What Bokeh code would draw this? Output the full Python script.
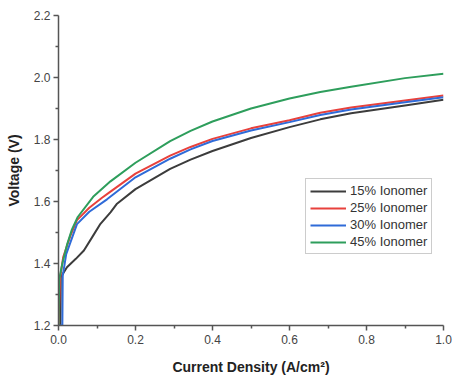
from bokeh.plotting import figure
from bokeh.models import Range1d, Legend, LegendItem, FixedTicker, CustomJSTickFormatter
from bokeh.embed import file_html
from bokeh.resources import INLINE

# Data
x15 = [0.0, 0.005, 0.006, 0.022, 0.045, 0.066, 0.09, 0.109, 0.135, 0.152, 0.2, 0.29, 0.343, 0.4, 0.5, 0.6, 0.68, 0.76, 0.9, 1.0]
v15 = [1.2, 1.2, 1.356, 1.388, 1.415, 1.442, 1.49, 1.528, 1.565, 1.593, 1.64, 1.705, 1.735, 1.763, 1.805, 1.84, 1.865, 1.885, 1.91, 1.928]

x25 = [0.0, 0.004, 0.012, 0.031, 0.048, 0.08, 0.113, 0.135, 0.2, 0.29, 0.343, 0.4, 0.5, 0.6, 0.68, 0.76, 0.9, 1.0]
v25 = [1.2, 1.35, 1.42, 1.49, 1.54, 1.58, 1.612, 1.632, 1.69, 1.748, 1.776, 1.802, 1.836, 1.862, 1.886, 1.903, 1.926, 1.942]

x30 = [0.0, 0.01, 0.011, 0.02, 0.048, 0.08, 0.126, 0.2, 0.29, 0.343, 0.4, 0.5, 0.6, 0.68, 0.76, 0.9, 1.0]
v30 = [1.2, 1.2, 1.36, 1.43, 1.527, 1.567, 1.607, 1.678, 1.738, 1.768, 1.795, 1.829, 1.856, 1.879, 1.897, 1.92, 1.936]

x45 = [0.0, 0.002, 0.01, 0.022, 0.035, 0.05, 0.09, 0.135, 0.2, 0.29, 0.343, 0.4, 0.5, 0.6, 0.68, 0.76, 0.9, 1.0]
v45 = [1.2, 1.35, 1.40, 1.46, 1.51, 1.55, 1.615, 1.665, 1.725, 1.795, 1.828, 1.858, 1.90, 1.932, 1.953, 1.97, 1.998, 2.012]

labels = ["15% Ionomer", "25% Ionomer", "30% Ionomer", "45% Ionomer"]
colors = ["#3c3c3c", "#e8413c", "#2f6bd8", "#2e9e5c"]

x_ticks = [0.0, 0.2, 0.4, 0.6, 0.8, 1.0]
y_ticks = [1.2, 1.4, 1.6, 1.8, 2.0, 2.2]

FONT = "Liberation Sans"

p = figure(width=454, height=383, output_backend="svg", toolbar_location=None,
           x_range=Range1d(0.0, 1.0), y_range=Range1d(1.2, 2.2),
           min_border_left=58, min_border_right=11, min_border_top=15, min_border_bottom=58)
p.outline_line_color = None
p.xgrid.visible = False
p.ygrid.visible = False
p.background_fill_color = "white"
p.border_fill_color = "white"

renderers = []
for xs, vs, c in zip([x15, x25, x30, x45], [v15, v25, v30, v45], colors):
    r = p.line(xs, vs, line_color=c, line_width=2)
    renderers.append(r)

for ax, ticks in ((p.xaxis[0], x_ticks), (p.yaxis[0], y_ticks)):
    ax.ticker = FixedTicker(ticks=ticks, minor_ticks=[t + 0.1 for t in ticks[:-1]])
    ax.formatter = CustomJSTickFormatter(code="return tick.toFixed(1);")
    ax.axis_line_color = "#555555"
    ax.axis_line_width = 1.5
    ax.major_tick_line_color = "#555555"
    ax.major_tick_line_width = 1.5
    ax.minor_tick_line_color = "#555555"
    ax.minor_tick_line_width = 1.5
    ax.major_tick_in = 0
    ax.major_tick_out = 5
    ax.minor_tick_in = 0
    ax.minor_tick_out = 3
    ax.major_label_text_font = FONT
    ax.major_label_text_font_size = "12px"
    ax.major_label_text_color = "#444444"
    ax.axis_label_text_font = FONT
    ax.axis_label_text_font_size = "14px"
    ax.axis_label_text_font_style = "bold"
    ax.axis_label_text_color = "#222222"

p.xaxis.axis_label = "Current Density (A/cm\u00b2)"
p.yaxis.axis_label = "Voltage (V)"
p.xaxis.major_label_standoff = 4
p.xaxis.axis_label_standoff = 12
p.yaxis.major_label_standoff = 3
p.yaxis.axis_label_standoff = 9

legend = Legend(items=[LegendItem(label=l, renderers=[r]) for l, r in zip(labels, renderers)],
                location=(247, 71))
legend.label_text_font = FONT
legend.label_text_font_size = "13px"
legend.label_text_color = "#333333"
legend.glyph_width = 36
legend.glyph_height = 14
legend.label_height = 14
legend.spacing = 2
legend.padding = 4
legend.margin = 0
legend.label_standoff = 4
legend.border_line_color = "#999999"
legend.border_line_width = 1
legend.background_fill_color = "white"
legend.background_fill_alpha = 1.0
p.add_layout(legend, "center")

open("out.html", "w").write(file_html(p, INLINE))
